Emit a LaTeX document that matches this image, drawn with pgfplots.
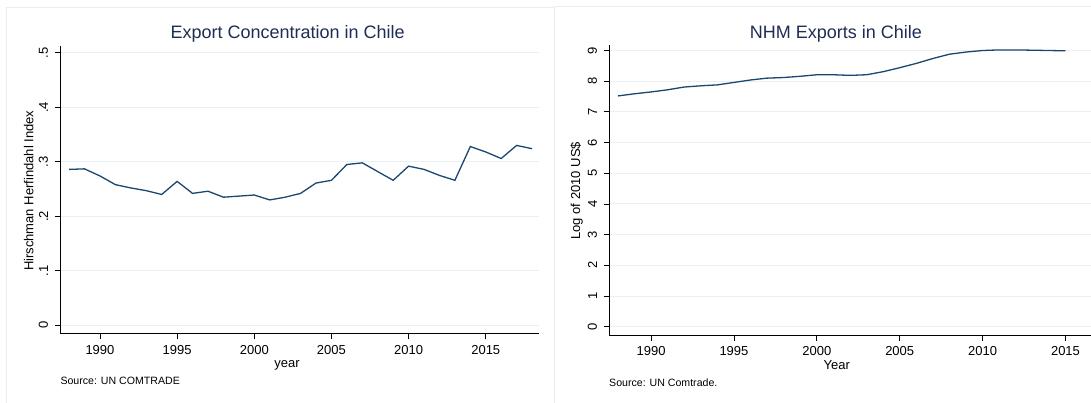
\documentclass[border=0pt]{standalone}
\usepackage{fontspec}
\setmainfont{Liberation Sans}
\usepackage{pgfplots}
\pgfplotsset{compat=1.18}
\definecolor{pen}{RGB}{26,71,111}
\definecolor{gridc}{RGB}{232,240,243}
\definecolor{titlec}{RGB}{30,45,85}
\definecolor{framec}{RGB}{236,236,236}

\pgfplotstableread{
year hhi
1988 0.286
1989 0.287
1990 0.274
1991 0.258
1992 0.252
1993 0.247
1994 0.240
1995 0.264
1996 0.242
1997 0.246
1998 0.235
1999 0.237
2000 0.239
2001 0.230
2002 0.235
2003 0.242
2004 0.261
2005 0.266
2006 0.295
2007 0.298
2008 0.282
2009 0.266
2010 0.292
2011 0.286
2012 0.275
2013 0.266
2014 0.328
2015 0.318
2016 0.306
2017 0.330
2018 0.324
}\hhitab

\pgfplotstableread{
year lognhm
1988 7.52
1989 7.59
1990 7.65
1991 7.72
1992 7.81
1993 7.85
1994 7.88
1995 7.96
1996 8.04
1997 8.10
1998 8.12
1999 8.16
2000 8.21
2001 8.21
2002 8.19
2003 8.21
2004 8.31
2005 8.44
2006 8.58
2007 8.74
2008 8.88
2009 8.95
2010 9.00
2011 9.02
2012 9.02
2013 9.01
2014 9.00
2015 8.99
}\nhmtab

\pgfplotsset{
  statastyle/.style={
    scale only axis,
    anchor=south west,
    axis lines*=left,
    axis line style={black, line width=1pt},
    tick align=outside,
    major tick length=5.5pt,
    tick style={black, line width=0.8pt},
    ymajorgrids,
    grid style={gridc, line width=1pt},
    xtick={1990,1995,2000,2005,2010,2015},
    /pgf/number format/assume math mode=true,
    /pgf/number format/1000 sep={},
    ticklabel style={font=\fontsize{13}{13}\selectfont},
    xticklabel style={yshift=-2pt},
    yticklabel style={xshift=-3.2pt, rotate=90, anchor=south},
    clip=false,
  },
}

\begin{document}
\begin{tikzpicture}[x=1pt, y=1pt]
\useasboundingbox (0,0) rectangle (1091,403);
% panel frames
\draw[framec, line width=0.8pt] (6.7,0) -- (6.7,395.7) -- (554,395.7);
\draw[framec, line width=0.8pt] (554.5,0) -- (554.5,396.3) -- (1095,396.3);

% left panel
\begin{axis}[statastyle,
    at={(60.3pt,69pt)}, width=479pt, height=288.3pt,
    xmin=1987.43, xmax=2018.47, ymin=-0.016, ymax=0.513,
    ytick={0,0.1,0.2,0.3,0.4,0.5},
    yticklabels={0,.1,.2,.3,.4,.5},
]
\addplot[pen, line width=1.3pt] table[x=year, y=hhi] {\hhitab};
\end{axis}

% right panel
\begin{axis}[statastyle,
    at={(609.3pt,67.7pt)}, width=481.7pt, height=290.3pt,
    xmin=1987.48, xmax=2016.54, ymin=-0.28, ymax=9.18,
    ytick={0,1,2,3,4,5,6,7,8,9},
]
\addplot[pen, line width=1.3pt] table[x=year, y=lognhm] {\nhmtab};
\end{axis}

% titles and labels
\node[anchor=base, text=titlec, font=\fontsize{18}{18}\selectfont] at (287.6,364.7) {Export Concentration in Chile};
\node[anchor=base, text=titlec, font=\fontsize{18}{18}\selectfont] at (836,364.7) {NHM Exports in Chile};
\node[anchor=base, font=\fontsize{13}{13}\selectfont] at (287,35.7) {year};
\node[anchor=base, font=\fontsize{13}{13}\selectfont] at (836.7,33) {Year};
\node[rotate=90, font=\fontsize{13}{13}\selectfont] at (28.7,212.2) {Hirschman Herfindahl Index};
\node[rotate=90, font=\fontsize{13}{13}\selectfont] at (576.7,212.2) {Log of 2010 US\$};
\node[anchor=base west, inner sep=0pt, font=\fontsize{10.6}{10.6}\selectfont] at (60.3,18) {Source: UN COMTRADE};
\node[anchor=base west, inner sep=0pt, font=\fontsize{10.6}{10.6}\selectfont] at (609,16) {Source: UN Comtrade.};
\end{tikzpicture}
\end{document}
